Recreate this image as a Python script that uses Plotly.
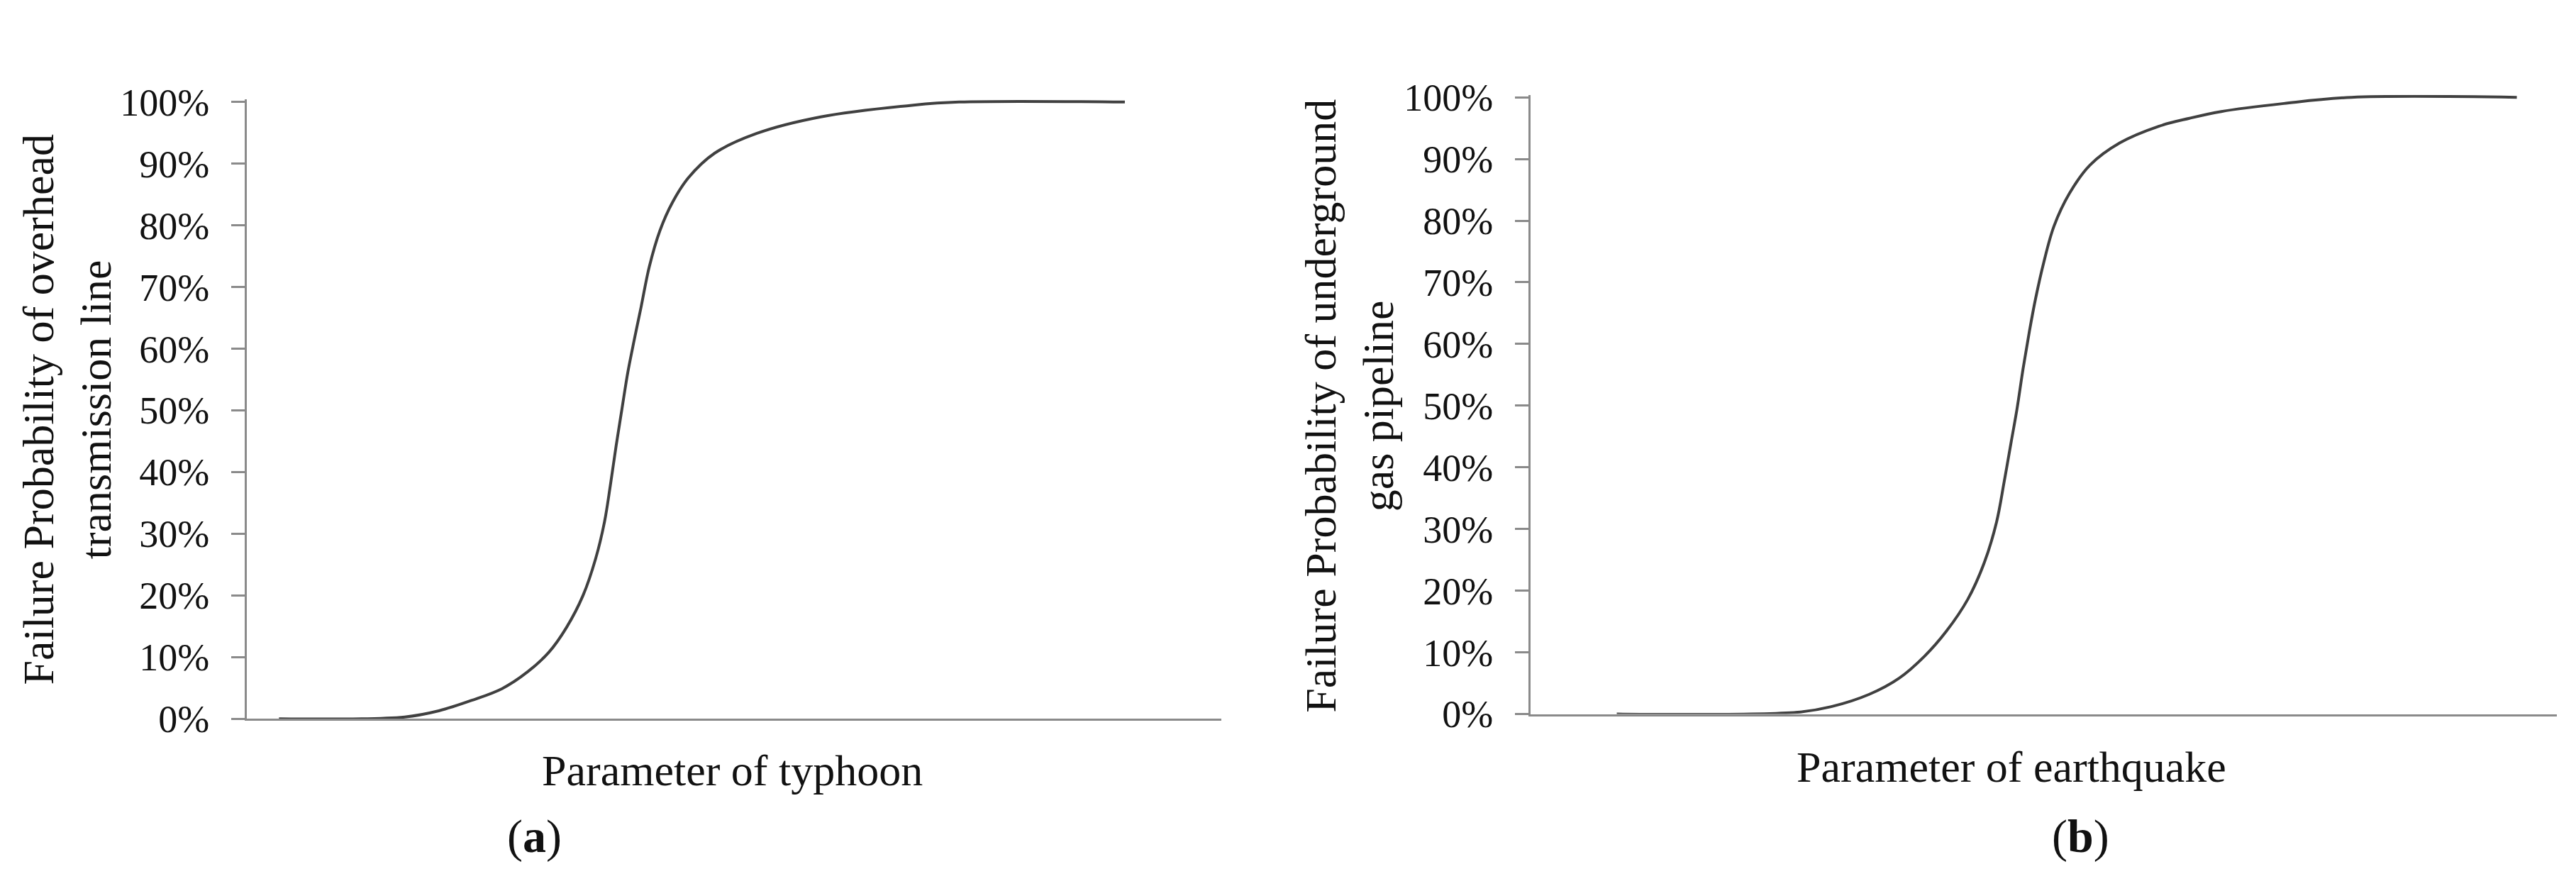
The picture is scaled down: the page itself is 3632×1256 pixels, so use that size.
import plotly.graph_objects as go

W, H = 3632, 1256

# (a) typhoon -> overhead transmission line  (x: parameter, arbitrary units 0-100)
typhoon_x = [3.3, 16.2, 19.7, 23.1, 26.2, 28.8, 31.0, 32.8, 34.5, 35.8, 36.7, 37.3, 37.9,
             38.5, 39.1, 39.75, 40.45, 41.3, 42.4, 43.7, 45.3, 48.0, 52.3, 58.9, 68.4, 73.1, 90.1]
typhoon_p = [0.0, 0.3, 1.3, 3.0, 4.9, 7.6, 10.8, 14.8, 20.0, 26.0, 31.9, 37.8, 44.3,
             50.3, 56.2, 61.4, 66.7, 73.3, 79.2, 83.8, 87.7, 91.7, 94.9, 97.6, 99.5, 100.0, 100.0]

# (b) earthquake -> underground gas pipeline
quake_x = [8.4, 26.0, 29.3, 33.0, 35.9, 38.4, 40.5, 42.6, 44.2, 45.4, 46.15, 46.85, 47.4, 48.0,
           48.6, 49.2, 50.0, 51.0, 52.5, 54.5, 57.4, 61.2, 64.2, 67.3, 73.4, 80.0, 96.1]
quake_p = [0.0, 0.3, 1.2, 3.2, 5.8, 9.4, 13.4, 18.6, 24.5, 31.1, 37.7, 44.3, 49.5, 56.1,
           62.0, 67.3, 73.2, 79.1, 84.4, 89.0, 92.6, 95.3, 96.6, 97.7, 99.0, 100.0, 100.0]

y_ticks = [i / 10 for i in range(11)]

FONT = "Liberation Serif"
AXIS_GREY = "#8a8a8a"
LINE_GREY = "#404040"


def px_x(v):
    return v / W


def px_y(v):
    return 1 - v / H


fig = go.Figure()
fig.add_trace(go.Scatter(x=typhoon_x, y=[p / 100 for p in typhoon_p], mode="lines",
                         line=dict(color=LINE_GREY, width=4, shape="spline", smoothing=1.0),
                         xaxis="x", yaxis="y", showlegend=False))
fig.add_trace(go.Scatter(x=quake_x, y=[p / 100 for p in quake_p], mode="lines",
                         line=dict(color=LINE_GREY, width=4, shape="spline", smoothing=1.0),
                         xaxis="x2", yaxis="y2", showlegend=False))

xcommon = dict(range=[0, 100], showticklabels=False, ticks="", showgrid=False, zeroline=False,
               showline=True, linecolor=AXIS_GREY, linewidth=3, fixedrange=True)
ycommon = dict(range=[0, 1.004], tickvals=y_ticks, tickformat=".0%", ticks="outside",
               ticklen=19, tickwidth=3, tickcolor=AXIS_GREY, ticklabelstandoff=20,
               showgrid=False, zeroline=False, showline=True, linecolor=AXIS_GREY,
               linewidth=3, tickfont=dict(family=FONT, size=54, color="#111111"))

fig.update_layout(
    width=W, height=H,
    margin=dict(l=0, r=0, t=0, b=0),
    paper_bgcolor="white", plot_bgcolor="white",
    xaxis=dict(domain=[px_x(340), px_x(1714)], anchor="y", **xcommon),
    yaxis=dict(domain=[px_y(1026), px_y(112.4)], anchor="x", **ycommon),
    xaxis2=dict(domain=[px_x(2150), px_x(3597)], anchor="y2", **xcommon),
    yaxis2=dict(domain=[px_y(1019), px_y(105.4)], anchor="x2", **ycommon),
)

notes = [
    (87, 570, "Failure Probability of overhead<br>transmission line", -90, 62),
    (1895, 564, "Failure Probability of underground<br>gas pipeline", -90, 62),
    (1024, 1102, "Parameter of typhoon", 0, 62),
    (2828, 1097, "Parameter of earthquake", 0, 62),
    (745, 1200, "(<b>a</b>)", 0, 66),
    (2925, 1199, "(<b>b</b>)", 0, 66),
]
for x, y, text, angle, size in notes:
    fig.add_annotation(x=px_x(x), y=px_y(y), xref="paper", yref="paper", text=text,
                       showarrow=False, textangle=angle, xanchor="center", yanchor="middle",
                       font=dict(family=FONT, size=size, color="#111111"))

fig.write_html("out.html")
